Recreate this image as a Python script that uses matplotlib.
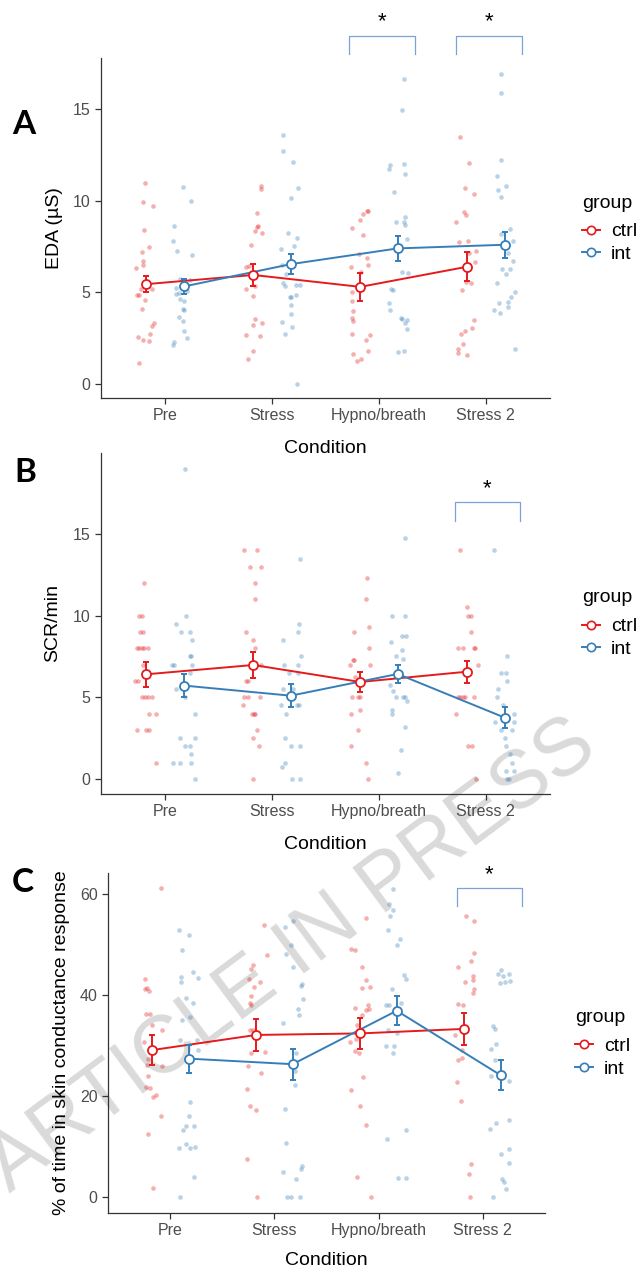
import matplotlib.pyplot as plt
from matplotlib.lines import Line2D
import numpy as np

plt.rcParams['font.family'] = ['Liberation Sans', 'DejaVu Sans']

conditions = ['Pre', 'Stress', 'Hypno/breath', 'Stress 2']
groups = ['ctrl', 'int']
RED = '#E41A1C'
BLUE = '#377EB8'

# ---- EDA (uS): one list per condition, dx = horizontal jitter of each subject
eda_ctrl = [
    [11.0, 9.95, 9.73, 8.38, 7.47, 7.18, 6.70, 6.47, 6.32, 5.20, 5.17, 4.86, 4.86, 4.60, 4.10, 3.33, 3.15, 2.71, 2.57, 2.39, 2.33, 1.15],
    [10.80, 10.64, 9.33, 8.63, 8.56, 8.34, 8.25, 7.60, 6.41, 6.45, 5.17, 5.32, 4.79, 3.52, 3.35, 3.19, 2.69, 2.62, 1.80, 1.37],
    [9.47, 9.42, 9.29, 8.93, 8.54, 8.12, 7.10, 6.87, 6.50, 6.41, 6.10, 5.00, 4.55, 4.00, 3.60, 3.42, 2.73, 2.68, 2.40, 1.82, 1.64, 1.38, 1.27],
    [13.48, 12.06, 10.71, 10.38, 9.40, 9.20, 8.85, 7.80, 7.74, 7.27, 7.16, 6.67, 5.56, 5.52, 5.14, 3.48, 3.04, 2.91, 2.73, 2.19, 1.93, 1.71, 1.60],
]
eda_ctrl_dx = [
    [-0.01, -0.03, 0.06, -0.02, 0.02, -0.04, -0.03, -0.03, -0.10, 0.05, -0.05, -0.09, -0.07, -0.01, -0.04, 0.07, 0.05, 0.03, -0.08, -0.03, 0.02, -0.07],
    [0.07, 0.07, 0.03, 0.04, 0.03, 0.02, 0.08, -0.02, -0.07, -0.04, -0.07, 0.02, 0.0, 0.02, 0.08, 0.0, -0.07, 0.06, 0.0, -0.05],
    [0.07, 0.06, 0.03, 0.0, -0.08, 0.03, -0.01, 0.06, 0.07, -0.09, 0.01, -0.08, -0.08, -0.07, -0.08, -0.07, -0.08, 0.09, 0.05, 0.07, -0.07, 0.01, -0.03],
    [-0.07, 0.02, -0.02, 0.06, -0.03, -0.01, -0.10, 0.01, -0.08, 0.08, 0.02, 0.07, -0.01, 0.04, -0.05, 0.06, 0.05, -0.02, -0.06, -0.04, -0.09, -0.09, 0.0],
]
eda_int = [
    [10.78, 9.98, 8.62, 7.80, 7.25, 7.05, 5.72, 5.65, 5.50, 5.25, 5.05, 4.95, 4.92, 4.65, 4.52, 4.10, 4.05, 3.64, 3.42, 2.91, 2.48, 2.28, 2.13],
    [13.60, 12.73, 12.11, 10.71, 10.15, 8.22, 7.98, 7.52, 7.38, 6.47, 6.01, 5.50, 5.32, 5.41, 5.41, 4.75, 4.72, 4.86, 4.32, 3.83, 3.37, 3.12, 2.71, 0.0],
    [16.65, 14.98, 11.97, 11.73, 12.00, 11.44, 10.47, 9.11, 8.87, 8.70, 8.83, 7.92, 6.12, 6.05, 5.17, 5.12, 4.41, 4.04, 3.59, 3.52, 3.48, 3.31, 3.00, 1.73, 1.80],
    [16.90, 15.87, 12.22, 11.35, 10.80, 10.60, 10.20, 8.47, 8.20, 7.78, 7.16, 6.72, 6.27, 6.27, 5.98, 5.50, 5.01, 4.74, 4.46, 4.43, 4.19, 4.06, 3.86, 1.88],
]
eda_int_dx = [
    [-0.01, 0.07, -0.09, -0.10, -0.06, 0.08, -0.04, 0.06, 0.01, -0.07, 0.03, -0.05, -0.07, -0.04, 0.0, -0.01, 0.0, -0.05, -0.01, 0.0, 0.03, -0.09, -0.10],
    [-0.07, -0.07, 0.02, 0.07, 0.0, -0.03, 0.06, 0.03, -0.09, -0.08, -0.04, -0.07, -0.05, 0.05, 0.09, -0.01, 0.0, 0.05, 0.0, 0.0, -0.08, 0.01, -0.05, 0.06],
    [0.06, 0.04, -0.07, -0.08, 0.06, 0.07, -0.03, 0.07, 0.06, 0.07, -0.02, 0.09, 0.04, 0.10, -0.06, -0.04, -0.08, -0.07, 0.03, 0.04, 0.09, 0.07, 0.09, 0.0, 0.06],
    [-0.03, -0.03, -0.03, -0.07, 0.01, -0.06, -0.03, 0.05, -0.03, 0.08, 0.03, 0.08, -0.02, 0.05, 0.01, -0.07, 0.10, 0.06, 0.03, -0.05, 0.03, -0.10, -0.04, 0.10],
]
eda_ctrl_mean = [5.45, 5.95, 5.30, 6.40]
eda_ctrl_se = [0.45, 0.60, 0.75, 0.80]
eda_int_mean = [5.32, 6.54, 7.40, 7.60]
eda_int_se = [0.42, 0.55, 0.70, 0.72]
eda_sig = [2, 3]

# ---- SCR/min
scr_ctrl = [
    [12, 10, 10, 9, 9, 8, 8, 8, 8, 8, 7, 6, 6, 5, 5, 5, 5, 4, 4, 3, 3, 3, 1],
    [14, 14, 13, 13, 12, 11, 9, 8.5, 8, 7, 6, 6, 5, 5, 5, 4.5, 4, 4, 4, 3, 2.5, 2, 0],
    [12.3, 11.0, 9.3, 9.0, 8.0, 7.27, 7.27, 7.0, 7.0, 6.27, 6.0, 5, 5, 5, 4.24, 4, 3, 2, 1, 0],
    [14, 10.5, 10, 10, 9, 8, 8, 8, 8, 7, 6.5, 5, 5, 5, 5, 5, 4, 2, 2, 0],
]
scr_ctrl_dx = [
    [-0.02, -0.07, -0.04, -0.06, -0.03, -0.09, -0.07, -0.04, 0.01, -0.02, -0.03, -0.11, -0.08, -0.04, -0.01, 0.01, 0.05, 0.02, 0.09, -0.09, 0.0, 0.02, 0.09],
    [-0.09, 0.03, -0.03, 0.07, 0.02, 0.02, -0.07, 0.0, 0.02, 0.07, -0.07, -0.05, -0.09, -0.05, 0.06, -0.10, -0.01, 0.01, 0.02, 0.03, 0.0, 0.05, 0.0],
    [0.06, 0.05, 0.08, -0.06, 0.08, -0.07, -0.06, -0.10, 0.09, -0.05, 0.0, -0.08, -0.02, 0.0, 0.0, -0.09, -0.02, -0.09, 0.05, 0.07],
    [-0.07, 0.0, 0.01, 0.04, 0.04, -0.09, -0.04, 0.06, 0.07, 0.10, 0.0, -0.09, -0.07, -0.04, -0.02, 0.06, -0.10, 0.01, 0.05, 0.08],
]
scr_int = [
    [19, 10, 9.5, 9, 9, 8.5, 7.5, 7.5, 7, 7, 7, 6.5, 5.5, 5, 4, 2.5, 2.5, 2, 2, 1.5, 1, 1, 1, 0],
    [13.5, 9.5, 9, 8.5, 7.5, 7, 7, 6.5, 6.5, 5.5, 5.5, 4.5, 4.5, 4.5, 4, 2.5, 2, 2, 1, 0.75, 0, 0],
    [14.76, 10, 10, 8.76, 8.76, 8.39, 7.88, 7.5, 7.37, 6.5, 5.76, 5.41, 5, 5, 5, 4.76, 4.24, 4.0, 3.2, 1.76, 0.37],
    [14, 7.5, 6.5, 6.5, 6, 5.5, 5, 4.5, 4, 3.5, 3.5, 3, 3, 2.5, 2, 1.5, 1, 0.5, 0.5, 0, 0],
]
scr_int_dx = [
    [0.01, 0.02, -0.07, -0.03, 0.06, 0.08, 0.06, 0.07, -0.11, -0.09, 0.08, 0.06, -0.07, 0.01, 0.10, -0.04, 0.10, 0.01, 0.06, 0.07, -0.10, -0.04, 0.07, 0.10],
    [0.09, 0.08, 0.07, -0.07, 0.10, -0.06, 0.07, -0.02, 0.07, -0.07, 0.02, -0.09, 0.06, 0.08, -0.04, -0.05, 0.0, 0.09, -0.05, -0.08, 0.01, 0.09],
    [0.07, -0.05, 0.07, 0.04, 0.08, -0.06, 0.04, -0.02, 0.05, 0.0, -0.07, -0.04, -0.02, 0.05, 0.07, 0.09, -0.05, -0.05, 0.07, 0.03, 0.0],
    [-0.10, 0.02, -0.03, 0.01, 0.02, -0.06, -0.07, -0.01, 0.09, -0.09, 0.09, 0.07, -0.03, 0.0, 0.01, 0.05, 0.07, 0.01, 0.09, 0.02, 0.04],
]
scr_ctrl_mean = [6.41, 6.98, 5.94, 6.57]
scr_ctrl_se = [0.75, 0.77, 0.60, 0.67]
scr_int_mean = [5.72, 5.10, 6.43, 3.76]
scr_int_se = [0.68, 0.72, 0.56, 0.62]
scr_sig = [3]

# ---- % of time in skin conductance response
pct_ctrl = [
    [61.3, 43.1, 41.2, 41.4, 40.9, 36.2, 36.3, 34.1, 33.0, 30.6, 27.4, 26.1, 26.0, 24.0, 21.8, 21.6, 20.2, 19.7, 16.0, 12.5, 1.8],
    [53.9, 48.0, 46.0, 45.2, 43.2, 42.5, 41.6, 39.9, 38.4, 38.0, 33.0, 33.0, 28.8, 28.5, 25.9, 24.6, 21.4, 18.0, 17.2, 7.5, 0.0],
    [55.2, 49.1, 49.0, 45.5, 43.0, 41.5, 41.7, 37.4, 38.0, 37.0, 37.2, 36.0, 34.1, 33.0, 31.3, 30.6, 29.0, 28.5, 23.8, 21.1, 18.0, 14.3, 4.0, 0.0],
    [55.6, 54.6, 48.4, 46.7, 45.5, 43.8, 43.0, 42.6, 41.3, 40.5, 38.2, 38.0, 32.0, 29.2, 27.5, 27.1, 22.7, 19.1, 6.5, 4.5, 0.0],
]
pct_ctrl_dx = [
    [0.08, -0.07, -0.07, -0.05, -0.03, -0.06, -0.02, 0.0, 0.09, -0.08, -0.04, -0.05, 0.09, -0.04, -0.06, -0.02, 0.04, 0.01, 0.08, -0.04, 0.01],
    [0.07, 0.10, -0.03, -0.05, -0.07, 0.04, -0.02, -0.05, -0.06, -0.05, -0.06, -0.03, 0.08, -0.05, -0.08, 0.05, -0.09, -0.06, 0.0, -0.09, 0.01],
    [0.05, -0.09, -0.05, 0.02, 0.05, 0.02, 0.09, -0.05, 0.07, 0.05, 0.08, 0.02, -0.03, -0.02, -0.04, -0.10, -0.05, -0.01, 0.03, -0.09, 0.0, 0.05, -0.03, 0.10],
    [0.02, 0.09, 0.09, 0.06, -0.06, 0.08, 0.08, 0.01, 0.09, 0.08, -0.06, -0.01, -0.09, -0.02, -0.02, -0.06, -0.07, -0.03, 0.06, 0.04, 0.05],
]
pct_int = [
    [52.9, 51.9, 49.0, 44.5, 43.4, 43.6, 42.5, 39.5, 38.5, 35.7, 35.1, 31.0, 31.1, 29.2, 18.9, 16.1, 14.1, 14.1, 13.2, 10.4, 9.7, 9.7, 9.8, 3.9, 0.0],
    [54.6, 53.4, 50.0, 48.2, 45.5, 42.2, 41.8, 39.2, 37.2, 36.0, 34.5, 28.5, 26.8, 25.0, 22.1, 17.4, 10.7, 6.2, 5.5, 5.0, 3.6, 0.0, 0.0, 0.0],
    [61.0, 58.0, 56.9, 55.7, 52.9, 51.1, 49.9, 44.0, 43.2, 41.2, 38.0, 38.1, 38.5, 33.0, 32.5, 30.0, 30.0, 28.6, 13.3, 11.4, 3.8, 3.7],
    [44.1, 44.9, 43.7, 44.2, 42.3, 42.5, 42.7, 33.9, 33.3, 30.4, 29.4, 27.1, 23.9, 23.0, 24.0, 14.7, 13.5, 15.2, 9.4, 8.4, 6.7, 3.6, 2.9, 1.6, 0.0],
]
pct_int_dx = [
    [-0.09, 0.0, -0.06, 0.04, 0.09, -0.07, -0.07, -0.03, 0.04, 0.01, -0.06, -0.08, 0.08, 0.09, 0.01, 0.0, -0.03, 0.05, -0.05, -0.03, -0.09, 0.01, 0.06, 0.05, -0.08],
    [0.0, -0.07, -0.02, -0.06, 0.0, 0.09, 0.08, 0.10, 0.05, 0.06, -0.09, 0.03, 0.02, 0.02, 0.02, -0.07, -0.06, 0.09, 0.08, -0.09, 0.03, -0.05, -0.02, 0.07],
    [-0.04, -0.07, -0.04, -0.06, -0.08, 0.03, 0.0, 0.07, 0.09, -0.05, -0.10, -0.07, 0.04, -0.08, 0.0, -0.10, -0.03, -0.04, 0.09, -0.09, 0.01, 0.09],
    [-0.03, 0.0, 0.02, 0.08, -0.01, 0.04, 0.09, -0.07, -0.06, -0.05, -0.09, -0.06, -0.09, 0.08, 0.02, -0.05, -0.10, 0.08, 0.08, 0.0, 0.08, 0.01, 0.03, 0.05, -0.07],
]
pct_ctrl_mean = [29.1, 32.1, 32.4, 33.3]
pct_ctrl_se = [3.0, 3.1, 3.1, 3.15]
pct_int_mean = [27.4, 26.3, 36.9, 24.1]
pct_int_se = [2.8, 3.05, 2.9, 3.0]
pct_sig = [3]

W, H = 641, 1268
fig = plt.figure(figsize=(W / 100, H / 100), dpi=100)


def add_axes_px(left, top, right, bottom):
    ax = fig.add_axes([left / W, 1 - bottom / H, (right - left) / W, (bottom - top) / H])
    ax.set_facecolor('none')
    return ax


def draw_panel(ax, series, ylim, yticks, ylabel, sig, bracket, ylabel_x, xlabel_y):
    dodge = 0.175
    for (vals, dxs, mean, se, col), off in zip(series, (-dodge, dodge)):
        for i in range(len(conditions)):
            x = i + off + np.array(dxs[i])
            ax.scatter(x, vals[i], s=11, color=col, alpha=0.35, lw=0, zorder=2)
        xm = np.arange(len(conditions)) + off
        ax.plot(xm, mean, color=col, lw=1.4, zorder=3)
        ax.errorbar(xm, mean, yerr=se, fmt='none', ecolor=col, elinewidth=1.4,
                    capsize=2, capthick=1.4, zorder=4)
        ax.plot(xm, mean, 'o', ms=6.5, mfc='white', mec=col, mew=1.3, zorder=5)

    # significance brackets
    lo, hi, y_leg, y_top, y_star = bracket
    for i in sig:
        ax.plot([i + lo, i + lo, i + hi, i + hi], [y_leg, y_top, y_top, y_leg],
                color='#7BA3D8', lw=0.9, clip_on=False, zorder=6)
        ax.text(i + (lo + hi) / 2, y_star, '*', ha='center', va='center',
                fontsize=16, color='black', clip_on=False)

    ax.set_xlim(-0.6, 3.6)
    ax.set_ylim(*ylim)
    ax.set_xticks(range(len(conditions)))
    ax.set_xticklabels(conditions)
    ax.set_yticks(yticks)
    for s in ('top', 'right'):
        ax.spines[s].set_visible(False)
    for s in ('left', 'bottom'):
        ax.spines[s].set_color('#333333')
        ax.spines[s].set_linewidth(0.9)
    ax.tick_params(colors='#333333', labelcolor='#4D4D4D', length=4, width=0.9,
                   labelsize=11.5, pad=3.5)
    ax.set_xlabel('Condition', fontsize=14)
    ax.xaxis.set_label_coords(0.5, xlabel_y)
    ax.set_ylabel(ylabel, fontsize=14)
    ax.yaxis.set_label_coords(ylabel_x, 0.5)


def add_legend(x, y_title, y_mid):
    fig.text(x / W, 1 - y_title / H, 'group', fontsize=14, ha='left', va='center')
    handles = [Line2D([], [], color=c, marker='o', ms=6, mfc='white', mec=c, mew=1.2, lw=1.4)
               for c in (RED, BLUE)]
    fig.legend(handles, groups, loc='center left',
               bbox_to_anchor=(x / W, 1 - y_mid / H), frameon=False, fontsize=14,
               handlelength=0.9, handletextpad=0.6, labelspacing=0.26,
               borderpad=0, borderaxespad=0)


ax_a = add_axes_px(101, 58, 550, 398)
draw_panel(ax_a,
           [(eda_ctrl, eda_ctrl_dx, eda_ctrl_mean, eda_ctrl_se, RED),
            (eda_int, eda_int_dx, eda_int_mean, eda_int_se, BLUE)],
           (-0.77, 17.8), [0, 5, 10, 15], 'EDA (µS)', eda_sig,
           (-0.28, 0.34, 18.0, 19.0, 19.78), -0.085, -0.124)

ax_b = add_axes_px(101, 453, 550, 794)
draw_panel(ax_b,
           [(scr_ctrl, scr_ctrl_dx, scr_ctrl_mean, scr_ctrl_se, RED),
            (scr_int, scr_int_dx, scr_int_mean, scr_int_se, BLUE)],
           (-0.92, 19.96), [0, 5, 10, 15], 'SCR/min', scr_sig,
           (-0.29, 0.32, 15.8, 16.96, 17.75), -0.089, -0.123)

ax_c = add_axes_px(108, 873, 545, 1213)
draw_panel(ax_c,
           [(pct_ctrl, pct_ctrl_dx, pct_ctrl_mean, pct_ctrl_se, RED),
            (pct_int, pct_int_dx, pct_int_mean, pct_int_se, BLUE)],
           (-3.2, 64.2), [0, 20, 40, 60], '% of time in skin conductance response', pct_sig,
           (-0.25, 0.38, 57.6, 61.2, 63.95), -0.087, -0.115)

add_legend(582, 203, 243)
add_legend(582, 598, 638)
add_legend(575, 1018, 1057.5)

# panel letters
for letter, (x, y) in zip('ABC', [(24, 124), (25, 473), (23, 883)]):
    fig.text(x / W, 1 - y / H, letter, fontsize=24, fontweight='bold',
             family=['Lato', 'DejaVu Sans'], ha='center', va='center')

# watermark sits behind the (transparent) axes
fig.text(292 / W, 1 - 956 / H, 'ARTICLE IN PRESS', rotation=36.7, rotation_mode='anchor',
         ha='center', va='center', fontsize=58, color='#dadada', zorder=-1)

fig.savefig('out.png', dpi=100)
